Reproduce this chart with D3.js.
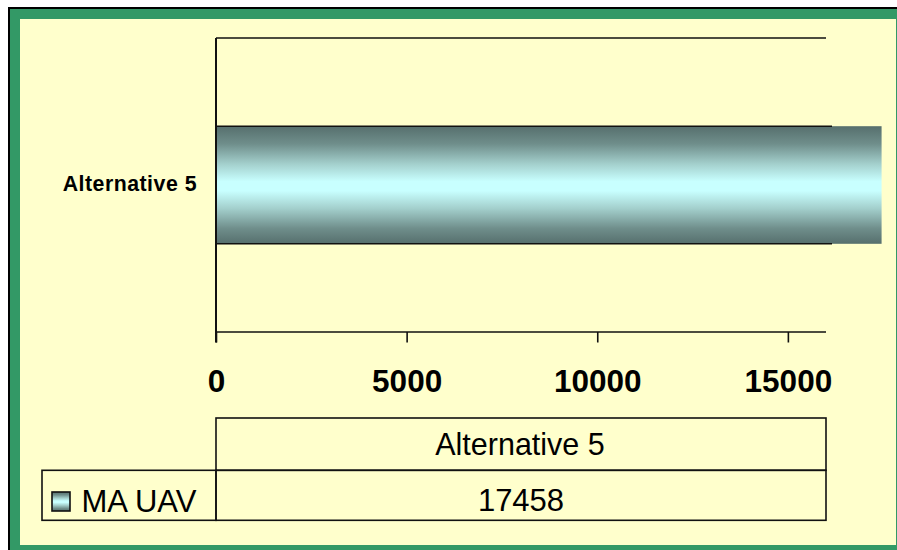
<!DOCTYPE html>
<html><head><meta charset="utf-8">
<script src="https://cdn.jsdelivr.net/npm/d3@7/dist/d3.min.js"></script>
<style>html,body{margin:0;padding:0;background:#fff;}svg{display:block;}</style>
</head><body>
<svg id="c" width="897" height="550"></svg>
<script>
const categories = ["Alternative 5"];
const seriesName = "MA UAV";
const seriesValues = [17458];
const tickValues = [0, 5000, 10000, 15000];
const axisMax = 16000;

const svg = d3.select("#c");
const font = "'Liberation Sans', Arial, sans-serif";

// frame
svg.append("rect").attr("x", 8).attr("y", 7).attr("width", 900).attr("height", 560).attr("fill", "#000");
svg.append("rect").attr("x", 10).attr("y", 9).attr("width", 900).attr("height", 560).attr("fill", "#339966");
svg.append("rect").attr("x", 20).attr("y", 19).attr("width", 876).attr("height", 526).attr("fill", "#ffffcc");

const defs = svg.append("defs");
const g = defs.append("linearGradient").attr("id", "bg").attr("x1", 0).attr("y1", 0).attr("x2", 0).attr("y2", 1);
[[0, "#566f6d"], [0.15, "#6f8e8b"], [0.32, "#a3cfcc"], [0.47, "#c8ffff"], [0.55, "#c8ffff"], [0.7, "#a3cfcc"], [0.87, "#6f8e8b"], [1, "#566f6d"]]
  .forEach(([o, c]) => g.append("stop").attr("offset", o).attr("stop-color", c));

const x = d3.scaleLinear().domain([0, axisMax]).range([216, 826]);
const y = d3.scaleBand().domain(categories).range([38, 332]).paddingInner(0.6).paddingOuter(0.3);

// top plot line
svg.append("line").attr("x1", x(0)).attr("x2", x(axisMax)).attr("y1", 38).attr("y2", 38)
  .attr("stroke", "#111").attr("stroke-width", 1.6);

// bars
categories.forEach((c, i) => {
  const v = seriesValues[i];
  svg.append("rect").attr("x", x(0)).attr("y", y(c)).attr("width", x(v) - x(0)).attr("height", y.bandwidth())
    .attr("fill", "url(#bg)");
  [y(c), y(c) + y.bandwidth()].forEach(yy => {
    svg.append("line").attr("x1", x(0)).attr("x2", x(axisMax) + 6).attr("y1", yy).attr("y2", yy)
      .attr("stroke", "#111").attr("stroke-width", 1.6);
  });
  svg.append("text").attr("x", 197).attr("y", y(c) + y.bandwidth() / 2 + 6)
    .attr("text-anchor", "end").attr("font-family", font).attr("font-weight", "bold")
    .attr("font-size", 21.3).attr("letter-spacing", 0.5).attr("fill", "#000").text(c);
});

// x axis
const xAxis = d3.axisBottom(x).tickValues(tickValues).tickSize(10.5).tickPadding(0).tickFormat(d3.format("d"));
const ax = svg.append("g").attr("transform", "translate(0,332)").call(xAxis);
ax.select(".domain").attr("stroke", "#111").attr("stroke-width", 1.6).attr("d", `M${x(0)},0H${x(axisMax)}`);
ax.selectAll(".tick line").attr("stroke", "#111").attr("stroke-width", 1.6);
ax.selectAll(".tick text").attr("font-family", font).attr("font-weight", "bold").attr("font-size", 31.5)
  .attr("fill", "#000").attr("dy", null).attr("y", 59.7);

// y axis line
svg.append("line").attr("x1", x(0)).attr("x2", x(0)).attr("y1", 38).attr("y2", 342.5)
  .attr("stroke", "#111").attr("stroke-width", 2);

// data table
const tb = svg.append("g").attr("fill", "none").attr("stroke", "#111").attr("stroke-width", 1.6);
tb.append("rect").attr("x", x(0)).attr("y", 418).attr("width", x(axisMax) - x(0)).attr("height", 52.3);
tb.append("rect").attr("x", x(0)).attr("y", 470.3).attr("width", x(axisMax) - x(0)).attr("height", 50);
tb.append("rect").attr("x", 42).attr("y", 470.3).attr("width", x(0) - 42).attr("height", 50);

const cx = (x(0) + x(axisMax)) / 2;
categories.forEach((c, i) => {
  svg.append("text").attr("x", cx - 1).attr("y", 455).attr("text-anchor", "middle")
    .attr("font-family", font).attr("font-size", 30.5).attr("fill", "#000").text(c);
  svg.append("text").attr("x", cx).attr("y", 510.7).attr("text-anchor", "middle")
    .attr("font-family", font).attr("font-size", 31).attr("fill", "#000").text(seriesValues[i]);
});

// legend key
svg.append("rect").attr("x", 52).attr("y", 492).attr("width", 18).attr("height", 19)
  .attr("fill", "url(#bg)").attr("stroke", "#111").attr("stroke-width", 1.6);
svg.append("text").attr("x", 81.5).attr("y", 512.3).attr("font-family", font).attr("font-size", 31)
  .attr("fill", "#000").text(seriesName);
</script>
</body></html>
